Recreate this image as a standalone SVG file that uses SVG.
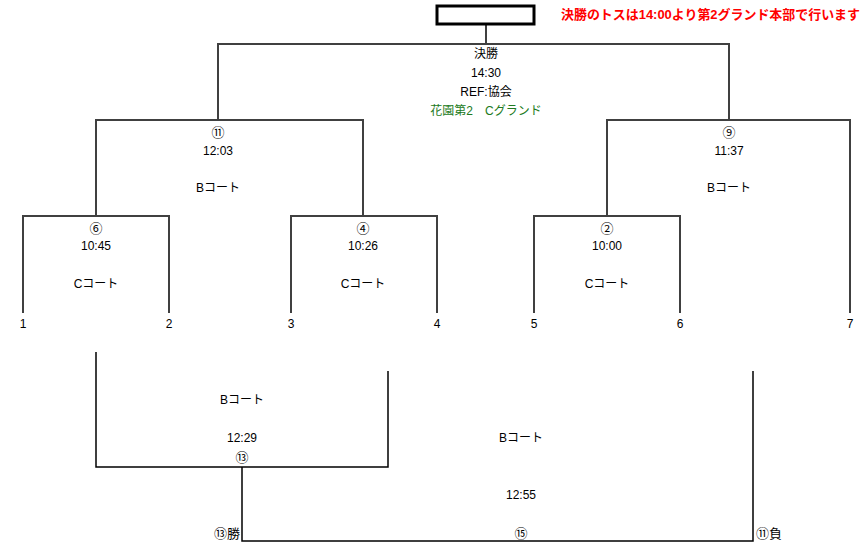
<svg xmlns="http://www.w3.org/2000/svg" width="863" height="545" viewBox="0 0 863 545">
<style>
text{font-family:"Liberation Sans","Noto Sans CJK JP",sans-serif;font-size:12px;fill:#000;text-anchor:middle;dominant-baseline:central}
.c{font-family:"Noto Sans CJK JP",sans-serif;font-size:13px}
.up{fill:none;stroke:#404040;stroke-width:2}
.low{fill:none;stroke:#000;stroke-width:1.5}
.green{fill:#217a21}
.red{fill:#ff0000;font-weight:bold;font-size:13px;text-anchor:start}
</style>
<rect width="863" height="545" fill="#fff"/>
<g id="connectors">
<path class="up" d="M486,25V44M218,120V44H729V120"/>
<path class="up" d="M96,216V120H363V216"/>
<path class="up" d="M607,216V120H850V313"/>
<path class="up" d="M23,313V216H169V313"/>
<path class="up" d="M291,313V216H437V313"/>
<path class="up" d="M534,313V216H680V313"/>
<path class="low" d="M96,352V467H388V371"/>
<path class="low" d="M242,467V541H753V371"/>
</g>
<g id="final-box"><rect x="437" y="6" width="97" height="18" fill="#fff" stroke="#000" stroke-width="3"/></g>
<g id="note"><text class="red" x="561" y="14" textLength="299" lengthAdjust="spacingAndGlyphs">決勝のトスは14:00より第2グランド本部で行います</text></g>
<g id="final">
<text x="486" y="54">決勝</text>
<text x="486" y="73">14:30</text>
<text x="486" y="92">REF:協会</text>
<text class="green" x="486" y="111">花園第2　Cグランド</text>
</g>
<g id="m11"><text class="c" x="218" y="131">⑪</text><text x="218" y="151">12:03</text><text x="218" y="188">Bコート</text></g>
<g id="m9"><text class="c" x="729" y="131">⑨</text><text x="729" y="151">11:37</text><text x="729" y="188">Bコート</text></g>
<g id="m6"><text class="c" x="96" y="227">⑥</text><text x="96" y="246">10:45</text><text x="96" y="284">Cコート</text></g>
<g id="m4"><text class="c" x="363" y="227">④</text><text x="363" y="246">10:26</text><text x="363" y="284">Cコート</text></g>
<g id="m2"><text class="c" x="607" y="227">②</text><text x="607" y="246">10:00</text><text x="607" y="284">Cコート</text></g>
<g id="teams">
<text x="23" y="324">1</text><text x="169" y="324">2</text><text x="291" y="324">3</text><text x="437" y="324">4</text>
<text x="534" y="324">5</text><text x="680" y="324">6</text><text x="850" y="324">7</text>
</g>
<g id="m13"><text x="242" y="400">Bコート</text><text x="242" y="438">12:29</text><text class="c" x="242" y="456">⑬</text></g>
<g id="m15"><text x="521" y="438">Bコート</text><text x="521" y="495">12:55</text><text class="c" x="521" y="532">⑮</text></g>
<g id="labels">
<text class="c" x="240" y="532" style="text-anchor:end">⑬勝</text>
<text class="c" x="756" y="532" style="text-anchor:start">⑪負</text>
</g>
</svg>
